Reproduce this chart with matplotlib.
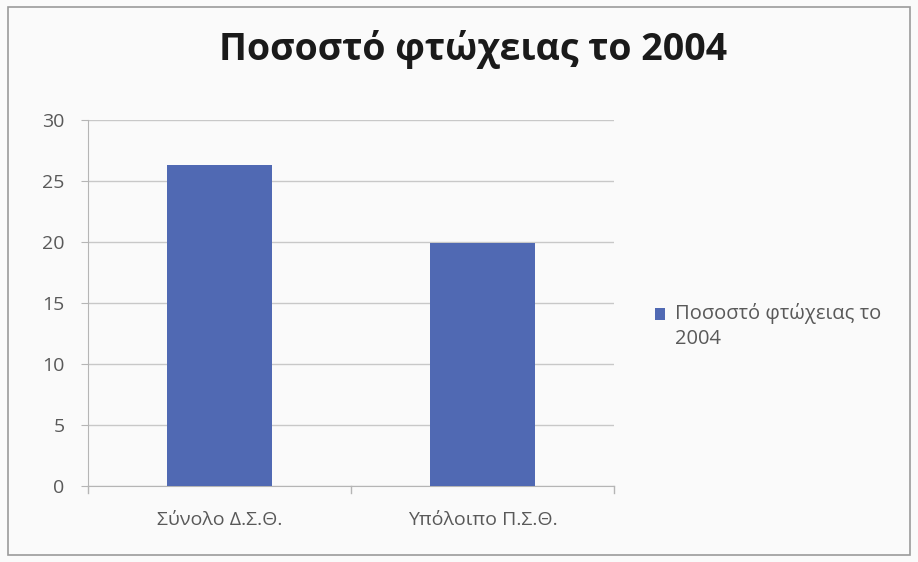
import matplotlib.pyplot as plt
from matplotlib.patches import Rectangle
from matplotlib.legend_handler import HandlerPatch

plt.rcParams['font.family'] = ['Open Sans', 'DejaVu Sans']

categories = ['Σύνολο Δ.Σ.Θ.', 'Υπόλοιπο Π.Σ.Θ.']
values = [26.3, 19.9]
series_name = 'Ποσοστό φτώχειας το\n2004'
title = 'Ποσοστό φτώχειας το 2004'

bar_color = '#5069b3'
text_color = '#595959'
grid_color = '#c8c8c8'

fig = plt.figure(figsize=(9.18, 5.62), dpi=100)
fig.patch.set_facecolor('#fafafa')
# outer chart border
fig.add_artist(Rectangle((0.009, 0.012), 0.982, 0.976, transform=fig.transFigure,
                         fill=False, edgecolor='#9a9a9a', linewidth=1.2))

ax = fig.add_axes([0.096, 0.135, 0.573, 0.651])
ax.set_facecolor('#fafafa')

x = range(len(categories))
bars = ax.bar(x, values, width=0.40, color=bar_color, zorder=3)

ax.set_xlim(-0.5, len(categories) - 0.5)
ax.set_ylim(0, 30)
ax.set_yticks(range(0, 31, 5))
ax.set_xticks(list(x))
ax.set_xticklabels(categories)
ax.yaxis.grid(True, color=grid_color, linewidth=1, zorder=0)

for side in ['top', 'right']:
    ax.spines[side].set_visible(False)
for side in ['left', 'bottom']:
    ax.spines[side].set_color('#b5b5b5')

ax.tick_params(axis='y', length=5, color='#b5b5b5', labelsize=14, labelcolor=text_color, pad=12)
ax.tick_params(axis='x', length=0, labelsize=14, labelcolor=text_color, pad=18)
# category separator ticks on the x axis
for pos in [-0.5, 0.5, 1.5]:
    ax.plot([pos, pos], [0, -0.6], color='#b5b5b5', linewidth=1, clip_on=False)

fig.text(0.515, 0.912, title, ha='center', va='center', fontsize=27,
         fontweight='bold', color='#1a1a1a')


# legend marker sits next to the first line of the wrapped label
def first_line_box(legend, orig_handle, xdescent, ydescent, width, height, fontsize):
    return Rectangle((-xdescent, -ydescent + 0.62 * fontsize), width, height)


leg = fig.legend([bars.patches[0]], [series_name], loc='center left',
                 bbox_to_anchor=(0.713, 0.42), frameon=False, fontsize=14.5,
                 borderpad=0, borderaxespad=0,
                 handlelength=0.5, handleheight=0.5, handletextpad=0.5,
                 handler_map={Rectangle: HandlerPatch(patch_func=first_line_box)})
for t in leg.get_texts():
    t.set_color(text_color)
    t.set_linespacing(1.35)

fig.savefig('out.png', dpi=100, facecolor=fig.get_facecolor())
